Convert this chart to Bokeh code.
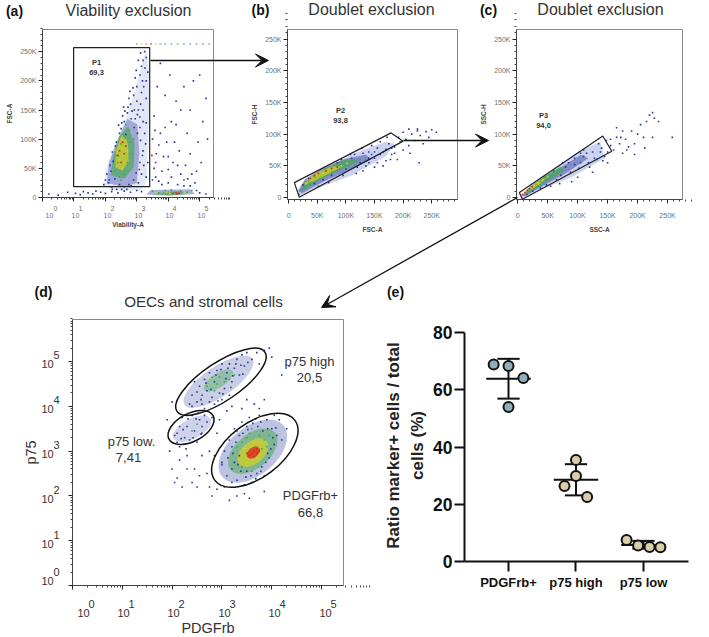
from bokeh.plotting import figure
from bokeh.models import FixedTicker, Arrow, VeeHead, Range1d, LinearAxis
from bokeh.core.properties import value
from bokeh.embed import file_html
from bokeh.resources import INLINE
import math

FONT = "Liberation Sans"
BLUE, LBLUE, GREEN, YEL, ORG, RED = "#26369c", "#6f82cf", "#3fa948", "#d9d21f", "#ef8a1d", "#e0201c"

# ---------- panel a (decades, K events)
A_GATE_X = [0.99, 3.41, 3.41, 0.99]
A_GATE_Y = [18.8, 18.8, 257, 257]
A_BLUE = [(2.1,25),(2.2,18),(2.3,32),(2.05,40),(2.15,55),(2.25,62),(2.4,72),(2.35,95),(2.5,118),(2.6,130),(2.7,145),(2.8,160),(2.9,175),(3.0,190),(3.1,210),(3.2,235),(3.25,250),(3.15,180),(3.05,150),(2.95,135),(3.1,120),(3.2,150),(3.3,200),(3.3,170),(3.25,110),(3.2,80),(3.1,60),(3.15,40),(3.05,25),(2.9,30),(2.75,22),(2.6,18),(2.45,22),(2.0,30),(1.95,22),(2.85,148),(2.65,108),(3.0,165),(3.15,225),(3.3,240),(3.2,130),(2.95,205),(3.05,235),(2.55,140),(2.75,170),(2.45,110),(3.22,190),(3.12,160),(3.35,215),(3.28,92),(3.35,60),(3.3,35),
 (3.5,30),(3.6,60),(3.7,90),(3.8,45),(3.9,120),(4.0,70),(4.1,35),(4.2,95),(4.3,55),(4.4,150),(4.5,30),(4.6,110),(4.7,75),(4.8,200),(4.9,45),(5.0,210),(5.1,130),(5.2,170),(3.55,140),(3.65,190),(3.75,230),(3.9,175),(4.05,210),(4.25,165),(4.5,190),(4.7,150),(3.5,100),(3.6,35),(3.8,22),(4.0,25),(4.3,22),(4.5,20),(4.7,20),(4.85,25),(3.55,50),(3.7,28),(3.85,70),(4.0,48),(4.15,60),(4.35,80),(4.55,55),(4.75,40),(3.62,75),(3.75,110),(3.95,95),(4.4,40),(4.62,32),(3.48,72),(3.58,115),(4.1,130),(4.95,95),(5.05,60),(5.25,100),(4.25,125),
 (0.2,6),(0.5,4),(0.8,9),(1.05,7),(1.2,5),(1.3,10),(1.45,8),(1.6,6),(1.7,11),(1.85,9),(2.0,7),(2.2,10),(2.4,8),(2.6,11),(2.8,9),(3.0,12),(3.15,10),(4.9,12),(5.0,8),(5.2,6),
 (2.12,30),(2.18,45),(2.22,78),(2.32,88),(2.42,124),(2.52,128),(2.62,148),(2.72,155),(2.82,135),(2.92,150),(3.02,110),(3.12,98),(3.18,72),(3.08,48),(3.22,55),(2.98,42),(2.82,20),(2.68,14),(2.52,14),(2.36,14),(2.22,14),(3.1,138),(3.02,142),(2.88,188),(2.98,218),(3.18,200),(3.26,222),(3.12,248),(3.3,128),(2.78,182),(2.92,120),(2.58,155)]
A_GREEN = [(2.3,45),(2.4,60),(2.5,92),(2.6,105),(2.75,115),(2.7,60),(2.85,75),(2.6,40),(2.45,35),(2.8,95),(2.9,100),(2.35,72),(3.5,11),(3.7,8),(3.9,12),(4.1,13),(4.4,11),(4.6,9),(4.75,12),(2.65,125),(2.5,30)]
A_YEL = [(2.45,65),(2.55,85),(2.6,60),(2.7,80),(2.5,100),(2.4,80),(2.65,98),(2.55,50),(3.6,9),(3.95,9),(4.05,7),(4.5,7)]
A_RED = [(2.45,80),(2.55,95),(2.6,75),(2.5,60),(2.65,88),(4.15,7),(4.25,8),(4.35,7),(4.28,6)]
A_TOP_X = [3.0,3.15,3.3,3.45,3.6,3.75,3.9,4.1,4.3,4.5,4.7,4.9,5.1,5.3]
A_TOP_Y = [263,263,263,263,263,263,263,263,263,263,263,263,263,263]
A_D1 = [(1.95,20),(2.05,55),(2.35,95),(2.65,135),(2.9,175),(3.1,215),(3.3,255),(3.4,205),(3.38,130),(3.34,70),(3.3,25),(3.1,12),(2.4,12)]
A_D2 = [(2.05,25),(2.12,60),(2.4,100),(2.7,135),(3.02,125),(3.08,75),(3.0,25),(2.6,18)]
A_D3 = [(2.17,38),(2.25,72),(2.45,105),(2.72,122),(2.93,92),(2.9,52),(2.6,32)]
A_D4 = [(2.32,52),(2.33,80),(2.53,108),(2.72,92),(2.74,62),(2.54,46)]
A_D5 = [(3.3,5),(3.45,13),(4.7,14),(4.85,6),(4.0,3)]
A_D6 = [(3.55,5),(3.9,10),(4.4,11),(4.55,6),(4.1,4)]

# ---------- panel b (K, K)
B_GATE_X = [10, 18.6, 200, 179]
B_GATE_Y = [23.6, 0.5, 89, 102]
B_BLUE = [(18,5),(25,20),(35,30),(45,22),(60,28),(75,35),(85,55),(100,45),(110,62),(120,48),(130,70),(140,55),(150,62),(155,78),(165,72),(170,58),(175,85),(180,68),(185,80),(190,60),(195,88),(200,75),(205,92),(210,82),(215,100),(220,90),(225,105),(230,98),(235,85),(240,104),(245,95),(250,107),(258,103),(212,70),(228,55),(165,50),(150,48),(130,42),(118,38),(95,35),(70,24),(52,18),(145,82),(160,88),(172,95),(128,78),(108,68),(92,60),(200,103),(210,108),(225,108),(185,70),(192,95),(178,60),(155,55),(140,72),(135,50),(145,68),(125,55),(115,68),(160,68),(170,76),(180,78),(150,72),(140,62)]
B_GREEN = [(22,12),(35,25),(45,33),(55,30),(65,45),(75,40),(90,50),(100,58),(115,52),(125,60),(135,60),(85,42),(105,50)]
B_YEL = [(30,22),(40,30),(50,36),(60,38),(70,42),(82,46),(92,50),(102,54)]
B_RED = [(38,30),(45,35),(52,38),(65,42),(75,46),(85,48)]
B_D1 = [(15,12),(20,3),(60,18),(110,35),(170,65),(185,85),(170,88),(120,72),(70,50),(30,30)]
B_D2 = [(17,10),(24,7),(60,25),(110,45),(145,60),(135,68),(95,60),(55,44),(28,28)]
B_D3 = [(20,11),(28,12),(60,31),(105,50),(125,60),(100,60),(60,44),(32,28)]
B_D4 = [(28,20),(45,26),(75,40),(95,50),(75,49),(50,39),(33,30)]

# ---------- panel c (K, K)
C_GATE_X = [2.8, 7.8, 157, 142]
C_GATE_Y = [8, -2.7, 73, 97]
C_BLUE = [(15,5),(25,10),(38,15),(48,20),(55,18),(65,28),(72,35),(80,48),(88,40),(95,52),(102,46),(110,65),(118,55),(125,72),(132,60),(140,78),(145,65),(150,72),(155,82),(160,75),(165,95),(170,85),(175,70),(180,92),(185,80),(190,105),(195,85),(200,100),(205,115),(210,95),(215,120),(220,130),(225,134),(228,125),(235,120),(225,95),(212,78),(195,68),(258,95),(100,32),(90,25),(125,40),(150,55),(75,55),(110,75),(135,85),(120,48),(105,70),(165,110),(175,105),(182,75),(60,42),(70,22),(115,70),(128,62),(138,72),(142,58),(95,62),(105,55),(85,55),(155,92),(172,95),(148,90)]
C_GREEN = [(18,12),(30,20),(38,25),(45,32),(52,36),(60,40),(68,43),(75,44),(35,18),(50,28)]
C_YEL = [(15,10),(22,15),(28,20),(35,24),(42,28),(50,33)]
C_RED = [(8,5),(12,8),(16,11),(20,14),(24,17)]
C_D1 = [(5,1),(8,-1),(45,15),(90,32),(145,62),(138,88),(100,72),(55,42),(22,20)]
C_D2 = [(7,3),(12,2),(45,20),(80,38),(118,62),(105,67),(72,48),(40,30),(18,15)]
C_D3 = [(9,4),(22,9),(50,26),(78,42),(72,49),(42,32),(22,18)]
C_D4 = [(9,5),(20,11),(38,22),(48,32),(32,24),(18,14)]

# ---------- panel d (decades, decades)
D_CX = [2.98, 2.38, 3.66]
D_CY = [4.55, 3.53, 3.02]
D_W = [106, 50, 100]
D_H = [38, 28, 54]
D_ANG = [34, 28, 37]
D_LOW = [(1.9,3.7),(2.0,4.1),(2.1,3.4),(1.95,3.0),(2.0,2.6),(2.1,2.4),(2.2,2.2),(2.3,2.6),(2.15,2.8),(2.4,2.3),(2.5,2.2),(2.45,2.6),(2.6,2.9),(2.7,2.5),(2.75,2.2),(2.8,2.0),(3.0,2.7),(3.05,2.2),(3.15,1.9),(3.3,2.0),(3.45,2.05),(3.55,1.95),(3.85,2.1),(2.85,2.9),(2.6,3.4),(2.75,3.0),(2.9,3.4),(2.95,3.7),(3.1,3.9),(3.2,4.0),(3.4,3.95),(3.5,4.15),(3.65,4.05),(3.75,3.95),(3.85,4.15),(4.05,3.8),(4.3,3.5),(4.2,4.7),(4.35,4.9),(4.0,5.1),(3.95,5.3),(2.3,2.9),(2.15,3.1),(2.05,2.3),(2.55,2.45),(2.9,2.15),(3.2,2.3),(2.4,4.0),(2.65,3.95),(2.8,3.75)]
D_BLUE = [(2.35,4.05),(2.4,4.25),(2.5,4.1),(2.55,4.45),(2.6,4.25),(2.65,4.6),(2.7,4.35),(2.75,4.75),(2.8,4.2),(2.85,4.55),(2.9,4.8),(2.95,4.3),(3.0,4.95),(3.05,4.4),(3.1,4.75),(3.15,4.95),(3.2,4.55),(3.25,4.85),(3.3,5.05),(3.35,4.7),(3.4,5.15),(3.45,4.9),(3.5,5.2),(3.6,5.05),(3.7,5.2),(3.75,4.95),(3.85,5.25),(2.45,4.55),(2.6,4.05),(2.75,4.1),(2.85,4.05),(3.0,4.15),(3.15,4.25),(2.1,3.2),(2.15,3.55),(2.2,3.75),(2.25,3.3),(2.3,3.55),(2.35,3.25),(2.4,3.8),(2.45,3.45),(2.5,3.2),(2.55,3.7),(2.6,3.55),(2.65,3.8),(2.7,3.65),(2.05,3.35),(2.28,3.05),(2.52,3.85),(3.0,2.75),(3.05,3.0),(3.1,2.45),(3.15,3.25),(3.2,2.6),(3.25,3.5),(3.3,2.35),(3.35,2.9),(3.4,3.65),(3.45,2.25),(3.5,2.55),(3.55,3.75),(3.6,2.3),(3.7,2.5),(3.75,3.8),(3.8,2.65),(3.9,3.7),(3.95,2.85),(4.0,3.5),(4.05,3.15),(4.1,3.35),(4.15,3.7),(3.2,3.1),(3.3,3.45),(3.5,3.55),(3.85,2.45),(4.2,3.25),
 (2.5,4.32),(2.58,4.15),(2.68,4.52),(2.78,4.38),(2.92,4.12),(3.02,4.28),(3.08,4.62),(3.18,4.42),(3.22,4.68),(3.38,4.92),(3.42,4.72),(3.52,4.98),(2.88,4.7),(2.98,4.82),(3.12,4.85),(3.28,4.95),(2.42,3.3),(2.48,3.72),(2.22,3.48),(2.32,3.72),(2.58,3.38),(2.18,3.28),
 (3.25,2.75),(3.28,3.2),(3.35,3.35),(3.38,2.55),(3.42,3.4),(3.48,2.42),(3.52,3.48),(3.58,2.45),(3.62,3.62),(3.68,2.38),(3.72,3.55),(3.78,2.55),(3.82,3.45),(3.88,2.75),(3.92,3.5),(3.98,3.05),(4.02,3.3),(3.22,2.95),(3.32,2.7),(3.12,2.85),(3.78,3.65),(3.68,3.72),(4.08,3.52),(3.92,2.95)]
D_GREEN = [(2.7,4.45),(2.8,4.65),(2.9,4.5),(2.95,4.65),(3.05,4.55),(3.15,4.6),(3.25,4.7),(2.85,4.35),(3.3,3.1),(3.4,2.65),(3.5,3.3),(3.6,3.5),(3.75,3.35),(3.85,3.25),(3.95,3.35),(3.8,3.05),(3.4,3.2),(3.6,2.55),(3.9,3.1),(3.55,3.4),(2.4,3.45),(2.5,3.6)]
D_YEL = [(2.72,4.6),(3.4,2.9),(3.5,2.75),(3.6,2.8),(3.7,2.85),(3.75,3.1),(3.55,3.15),(3.45,3.05),(3.65,3.2),(3.8,3.2)]
D_RED = [(3.6,2.95),(3.65,3.0),(3.7,3.05),(3.55,2.9),(3.75,3.0),(3.5,2.95),(3.65,2.88),(3.7,2.95)]
D_DENS_X = [3.62, 3.62, 3.62, 3.63, 2.93, 2.93, 2.4]
D_DENS_Y = [3.0, 3.0, 2.97, 2.97, 4.55, 4.58, 3.5]
D_DENS_W = [80, 58, 36, 15, 82, 34, 42]
D_DENS_H = [48, 34, 22, 10, 30, 14, 20]
D_DENS_A = [40, 40, 40, 40, 34, 34, 28]
D_DENS_C = [BLUE, GREEN, YEL, RED, BLUE, GREEN, BLUE]
D_DENS_O = [0.3, 0.5, 0.7, 0.75, 0.25, 0.4, 0.22]

# ---------- panel e
E_CATS = ["PDGFrb+", "p75 high", "p75 low"]
E_MEAN = [63.8, 28.6, 5.8]
E_UP = [70.8, 34.0, 7.2]
E_LO = [56.9, 23.1, 4.5]
E_PX = [-0.22, 0.0, 0.22, 0.0, 0.83, 1.0, 1.0, 1.165, 1.75, 1.92, 2.09, 2.25]
E_PY = [68.8, 68.3, 64.1, 54.0, 26.4, 29.9, 35.5, 22.5, 7.5, 5.6, 5.1, 5.0]
E_PC = ["#8fafbc"] * 4 + ["#dccdaa"] * 8

W, H = 709, 637

def xy(pts):
    return [p[0] for p in pts], [p[1] for p in pts]

# one page-sized figure; every panel has its own pair of ranges
p = figure(width=W, height=H, x_range=(0, W), y_range=(H, 0), output_backend="svg", toolbar_location=None,
           min_border=0, background_fill_color=None, border_fill_color=None, outline_line_color=None, margin=(0, 0, 0, 0))
p.axis.visible = False
p.grid.visible = False

def panel(name, frame, xr, yr):
    """frame = x0, ytop, x1, ybottom in picture pixels; xr, yr = data range over that frame"""
    x0, yt, x1, yb = frame
    kx = (xr[1]-xr[0])/(x1-x0)
    ky = (yr[1]-yr[0])/(yb-yt)
    p.extra_x_ranges[name] = Range1d(xr[0]-x0*kx, xr[0]+(W-x0)*kx)
    p.extra_y_ranges[name] = Range1d(yr[0]-(H-yb)*ky, yr[0]+yb*ky)
    return dict(x_range_name=name, y_range_name=name)

def flow_axes(name, xr, yr, xticks, xminor, yticks, yminor, xover, yover, xlabel, ylabel, ls_x, ls_y,
              xstand=2, axis_size="6.5px", style="bold", lab_color="#444444"):
    r = dict(x_range_name=name, y_range_name=name)
    p.quad(left=[xr[0]], right=[xr[1]], bottom=[yr[0]], top=[yr[1]], fill_color=None, line_color="#8a8a8a", line_width=1, **r)
    xa = LinearAxis(fixed_location=yr[0], bounds=xr, **r)
    ya = LinearAxis(fixed_location=xr[0], bounds=yr, **r)
    for ax, t, m, ov, lab, ls, st in ((xa, xticks, xminor, xover, xlabel, ls_x, xstand), (ya, yticks, yminor, yover, ylabel, ls_y, 2)):
        ax.ticker = FixedTicker(ticks=t, minor_ticks=m)
        ax.major_label_overrides = ov
        ax.axis_label = lab
        ax.axis_label_text_font = FONT
        ax.axis_label_text_font_style = style
        ax.axis_label_text_font_size = axis_size
        ax.axis_label_text_color = lab_color
        ax.axis_label_standoff = ls
        ax.major_label_text_font = FONT
        ax.major_label_text_font_size = "7px"
        ax.major_label_text_color = "#707070"
        ax.major_label_standoff = st
        ax.axis_line_color = "#444444"
        ax.major_tick_line_color = "#222222"
        ax.minor_tick_line_color = "#444444"
        ax.major_tick_out = 4
        ax.major_tick_in = 0
        ax.minor_tick_out = 2
        ax.minor_tick_in = 0
    p.add_layout(xa, "below")
    p.add_layout(ya, "left")
    return r

def dens(r, regions):
    for pts, c, a in regions:
        x, y = xy(pts)
        p.patch(x, y, fill_color=c, fill_alpha=a, line_color=None, **r)

def specks(r, lists, size=1.6):
    for pts, c in lists:
        x, y = xy(pts)
        p.scatter(x, y, marker="square", size=size, fill_color=c, line_color=None, **r)

K_T = [0, 50, 100, 150, 200, 250]
K_M = [v for v in range(10, 300, 10) if v % 50]
K_O = {0: "0", 50: "50K", 100: "100K", 150: "150K", 200: "200K", 250: "250K"}
DEC = [0, 1, 2, 3, 4, 5]
DEC_M = [d + math.log10(m) for d in range(0, 6) for m in (2, 3, 4, 5, 6, 7, 8, 9)]
BLANK = {d: "" for d in DEC}

# a
XR, YR = (0, 5.44), (0, 288)
r = panel("a", (42, 29, 213, 197), XR, YR)
flow_axes("a", XR, YR, DEC, DEC_M, K_T, K_M, BLANK, K_O, "Viability-A", "FSC-A", 19, 4)
dens(r, [(A_D1, LBLUE, 0.2), (A_D2, BLUE, 0.35), (A_D3, GREEN, 0.6), (A_D4, YEL, 0.7), (A_D5, BLUE, 0.4), (A_D6, GREEN, 0.6)])
specks(r, [(A_BLUE, BLUE), (A_GREEN, GREEN), (A_YEL, YEL), (A_RED, RED)])
p.scatter(A_TOP_X, A_TOP_Y, marker="square", size=2, fill_color=[GREEN, YEL, ORG, RED, YEL, GREEN, LBLUE, LBLUE, GREEN, LBLUE, LBLUE, GREEN, LBLUE, LBLUE], fill_alpha=0.5, line_color=None, **r)
p.patch(A_GATE_X, A_GATE_Y, fill_color=None, line_color="#222222", line_width=1.2, **r)

# b
XR, YR = (-2, 295), (-3, 265)
r = panel("b", (287, 29, 457, 199), XR, YR)
flow_axes("b", XR, YR, K_T, K_M, K_T, K_M, K_O, K_O, "FSC-A", "FSC-H", 4, 4, xstand=8)
dens(r, [(B_D1, LBLUE, 0.35), (B_D2, BLUE, 0.45), (B_D3, GREEN, 0.65), (B_D4, YEL, 0.7)])
specks(r, [(B_BLUE, BLUE), (B_GREEN, GREEN), (B_YEL, YEL), (B_RED, RED)])
p.patch(B_GATE_X, B_GATE_Y, fill_color=None, line_color="#222222", line_width=1.2, **r)

# c
XR, YR = (-2, 275), (-3, 265)
r = panel("c", (516, 29, 682, 199), XR, YR)
flow_axes("c", XR, YR, K_T, K_M, K_T, K_M, K_O, K_O, "SSC-A", "SSC-H", 4, 4, xstand=8)
dens(r, [(C_D1, LBLUE, 0.35), (C_D2, BLUE, 0.45), (C_D3, GREEN, 0.65), (C_D4, YEL, 0.7)])
specks(r, [(C_BLUE, BLUE), (C_GREEN, GREEN), (C_YEL, YEL), (C_RED, RED)])
p.patch(C_GATE_X, C_GATE_Y, fill_color=None, line_color="#222222", line_width=1.2, **r)

# d
XR, YR = (0, 5.44), (0, 5.94)
r = panel("d", (72, 319, 343, 585), XR, YR)
flow_axes("d", XR, YR, DEC, DEC_M, DEC, DEC_M, BLANK, BLANK, "PDGFrb", "p75", 30, 30, axis_size="14.5px", style="normal", lab_color="#333333")
p.ellipse(D_DENS_X, D_DENS_Y, width=D_DENS_W, height=D_DENS_H, angle=D_DENS_A, angle_units="deg", width_units="screen", height_units="screen",
          fill_color=D_DENS_C, fill_alpha=D_DENS_O, line_color=None, **r)
specks(r, [(D_LOW, BLUE), (D_BLUE, BLUE), (D_GREEN, GREEN), (D_YEL, YEL), (D_RED, RED)])
p.ellipse(D_CX, D_CY, width=D_W, height=D_H, angle=D_ANG, angle_units="deg", width_units="screen", height_units="screen",
          fill_color=None, line_color="#111111", line_width=1.5, **r)

# e
XR, YR = (-0.652, 2.667), (0, 80)
r = panel("e", (464, 332, 688, 561), XR, YR)
xax = LinearAxis(fixed_location=0, bounds=XR, **r)
yax = LinearAxis(fixed_location=XR[0], bounds=YR, **r)
xax.ticker = FixedTicker(ticks=[0, 1, 2])
xax.major_label_overrides = {i: c for i, c in enumerate(E_CATS)}
yax.ticker = FixedTicker(ticks=[0, 20, 40, 60, 80])
for ax in (xax, yax):
    ax.axis_line_width = 2
    ax.axis_line_color = "#111111"
    ax.major_tick_line_width = 2
    ax.major_tick_line_color = "#111111"
    ax.minor_tick_line_color = None
    ax.major_tick_out = 10
    ax.major_tick_in = 0
    ax.major_label_text_font = FONT
    ax.major_label_text_font_style = "bold"
    ax.major_label_text_color = "#111111"
xax.major_label_text_font_size = "13px"
xax.major_label_standoff = 3
yax.major_label_text_font_size = "17.5px"
yax.major_label_standoff = 2
p.add_layout(xax, "below")
p.add_layout(yax, "left")
E_X = list(range(len(E_CATS)))
p.segment(E_X, E_LO, E_X, E_UP, line_color="#111111", line_width=2, **r)
p.segment([x-0.33 for x in E_X], E_MEAN, [x+0.33 for x in E_X], E_MEAN, line_color="#111111", line_width=2, **r)
p.segment([x-0.165 for x in E_X], E_UP, [x+0.165 for x in E_X], E_UP, line_color="#111111", line_width=2, **r)
p.segment([x-0.165 for x in E_X], E_LO, [x+0.165 for x in E_X], E_LO, line_color="#111111", line_width=2, **r)
p.scatter(E_PX, E_PY, size=10, fill_color=E_PC, line_color="#111111", line_width=2, **r)

def txt(x, y, s, size, color="#222222", style="normal", align="center", angle=0):
    p.text([x], [y], text=[s], text_font=value(FONT), text_font_size=size, text_color=color, text_font_style=style,
           text_align=align, text_baseline="middle", angle=angle)

for x, y, s in [(128, 10, "Viability exclusion"), (371, 9, "Doublet exclusion"), (600, 9, "Doublet exclusion"), (203, 301, "OECs and stromal cells")]:
    txt(x, y, s, "16px" if y < 100 else "15.2px", "#333333")
for x, y, s in [(14, 10, "(a)"), (260, 9, "(b)"), (488, 9, "(c)"), (43, 291, "(d)"), (395, 291, "(e)")]:
    txt(x, y, s, "14px", "#111111", "bold")
for x, y, s in [(96, 62, "P1"), (96, 72, "69,3"), (340, 110, "P2"), (340, 120, "93,8"), (543, 115, "P3"), (543, 125, "94,0")]:
    txt(x, y, s, "7.5px", "#333333", "bold")
for x, y, s in [(309, 361, "p75 high"), (309, 377, "20,5"), (131, 441, "p75 low."), (128, 457, "7,41"), (310, 495, "PDGFrb+"), (310, 512, "66,8")]:
    txt(x, y, s, "13px", "#333333")

EXP = ["0", "1", "2", "3", "4", "5"]
for e, bx, ex in zip(EXP, [49, 75, 107, 138, 169, 201], [55, 80, 112, 143, 174, 206]):
    txt(bx, 215, "10", "7px", "#707070")
    txt(ex, 208, e, "7px", "#707070")
for e, bx, ex in zip(EXP, [83, 123, 173, 224, 274, 325], [91, 131, 181, 232, 282, 333]):
    txt(bx, 612, "10", "11px", "#333333")
    txt(ex, 603, e, "11px", "#333333")
for e, by in zip(EXP, [580, 543, 498, 453, 408, 363]):
    txt(47, by, "10", "11px", "#333333")
    txt(56, by-9, e, "11px", "#333333")

for xs, ys, xe, ye in [(150, 60, 268, 60), (403, 140, 488, 140), (517, 197, 321, 307)]:
    p.add_layout(Arrow(x_start=xs, y_start=ys, x_end=xe, y_end=ye, line_color="#111111", line_width=1.3,
                       end=VeeHead(size=13, fill_color="#111111", line_color="#111111")))

txt(393, 445, "Ratio marker+ cells / total", "17px", "#222222", "bold", angle=math.pi/2)
txt(417, 445, "cells (%)", "17px", "#222222", "bold", angle=math.pi/2)

open("out.html", "w").write(file_html(p, INLINE))
